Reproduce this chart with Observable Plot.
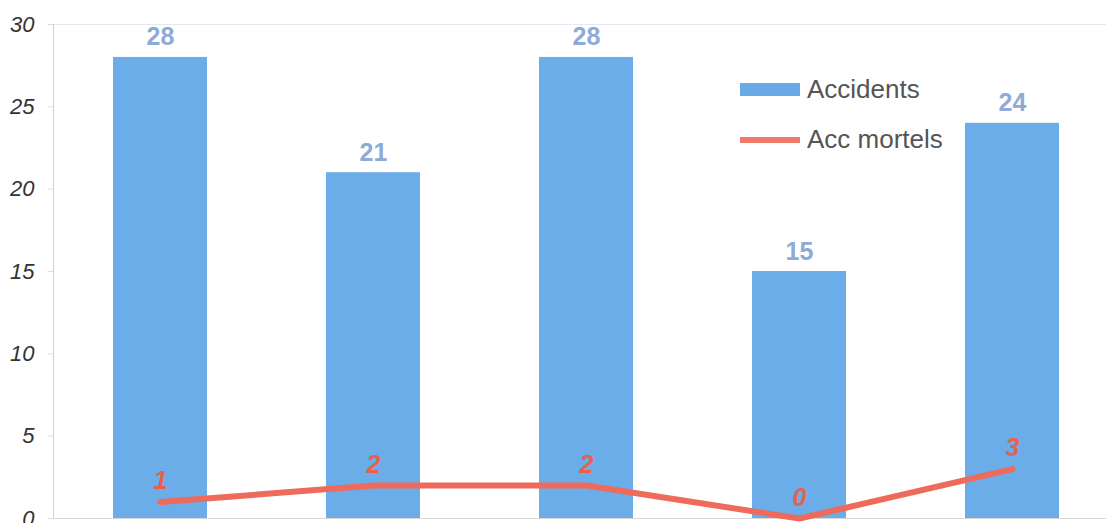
<!DOCTYPE html>
<html>
<head>
<meta charset="utf-8">
<script src="https://cdn.jsdelivr.net/npm/d3@7"></script>
<script src="https://cdn.jsdelivr.net/npm/@observablehq/plot@0.6"></script>
<style>
  html, body { margin: 0; padding: 0; background: #fff; }
  #wrap { position: relative; width: 1106px; height: 523px; overflow: hidden; font-family: "Liberation Sans", Arial, sans-serif; }
  .leg { position: absolute; left: 740px; display: flex; align-items: center; font-size: 26px; color: #555; }
  .sw { width: 60px; margin-right: 7px; }
</style>
</head>
<body>
<div id="wrap"></div>
<script>
const categories = ["P1", "P2", "P3", "P4", "P5"];
const accidents = [28, 21, 28, 15, 24];
const mortels = [1, 2, 2, 0, 3];
const yTicks = [0, 5, 10, 15, 20, 25, 30];
const seriesNames = ["Accidents", "Acc mortels"];

const data = categories.map((c, i) => ({cat: c, acc: accidents[i], mort: mortels[i]}));

const chart = Plot.plot({
  width: 1106,
  height: 523,
  marginLeft: 53,
  marginRight: 0,
  marginTop: 24,
  marginBottom: 5,
  style: {fontFamily: "Liberation Sans, Arial, sans-serif", background: "#fff"},
  x: {domain: categories, range: [53, 1118], paddingInner: 0.56, paddingOuter: 0.28, axis: null},
  y: {domain: [0, 30], range: [518, 24]},
  marks: [
    Plot.ruleY([30], {stroke: "#e4e8f0", strokeWidth: 1}),
    Plot.ruleY([0], {stroke: "#d8d8d8", strokeWidth: 1}),
    Plot.frame({anchor: "left", stroke: "#d0d0d0"}),
    Plot.axisY({ticks: yTicks, tickSize: 5, tickPadding: 14, fontSize: 22, fontStyle: "italic", stroke: "#ddd", color: "#333", label: null}),
    Plot.barY(data, {x: "cat", y: "acc", fill: "#6aade8"}),
    Plot.text(data, {x: "cat", y: "acc", text: d => String(d.acc), dy: -20, fill: "#8eaad6", fontWeight: "bold", fontSize: 25}),
    Plot.line(data, {x: "cat", y: "mort", stroke: "#ee6a5b", strokeWidth: 6}),
    Plot.text(data, {x: "cat", y: "mort", text: d => String(d.mort), dy: -21, fill: "#e8604f", fontStyle: "italic", fontWeight: "bold", fontSize: 25})
  ]
});

const wrap = document.getElementById("wrap");
wrap.appendChild(chart);

const leg1 = document.createElement("div");
leg1.className = "leg";
leg1.style.top = "74px";
leg1.innerHTML = `<span class="sw" style="height:13px;background:#6aaae6"></span><span>${seriesNames[0]}</span>`;
wrap.appendChild(leg1);
const leg2 = document.createElement("div");
leg2.className = "leg";
leg2.style.top = "124px";
leg2.innerHTML = `<span class="sw" style="height:6px;background:#f07a6c"></span><span>${seriesNames[1]}</span>`;
wrap.appendChild(leg2);
</script>
</body>
</html>
